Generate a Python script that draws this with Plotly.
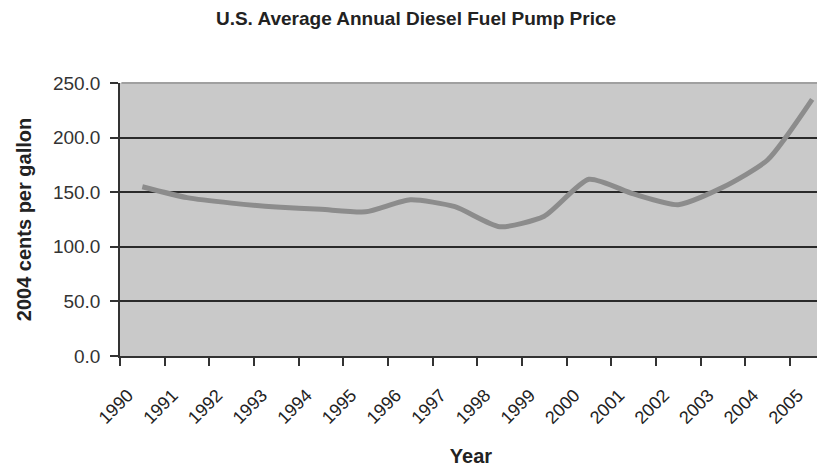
import plotly.graph_objects as go

years = list(range(1990, 2006))
year_labels = [str(y) for y in years]
prices = [155.0, 145.0, 140.0, 136.5, 134.3, 132.0, 143.0, 136.7, 118.4, 128.0,
          161.8, 148.4, 138.6, 154.5, 179.5, 235.0]
y_ticks = [0, 50, 100, 150, 200, 250]
y_tick_labels = ["0.0", "50.0", "100.0", "150.0", "200.0", "250.0"]

# points plotted mid-category (between tick marks), as in Excel
x_pos = [y + 0.5 for y in years]

fig = go.Figure()
fig.add_trace(go.Scatter(
    x=x_pos, y=prices, mode="lines",
    line=dict(color="#8c8c8c", width=5, shape="spline", smoothing=0.6),
    showlegend=False, hoverinfo="skip"))

# the page body adds an 8px margin, so the figure is sized 8px smaller
W, H = 817, 460
font_family = "Liberation Sans, Arial, sans-serif"
fig.update_layout(
    width=W, height=H,
    margin=dict(l=112, r=3, t=75, b=112),
    paper_bgcolor="white", plot_bgcolor="#c9c9c9",
    font=dict(family=font_family, color="#222222"),
    title=dict(text="<b>U.S. Average Annual Diesel Fuel Pump Price</b>",
               x=408 / W, xanchor="center", y=1 - 10 / H, yanchor="middle",
               font=dict(size=19, family=font_family, color="#222222")),
    xaxis=dict(
        range=[1990, 2005.72], tickmode="array", tickvals=years, ticktext=year_labels,
        tickangle=-45, ticks="outside", ticklen=8, tickwidth=1.5, tickcolor="#333333",
        ticklabelstandoff=12, ticklabelshift=8,
        showgrid=False, zeroline=False, showline=True, linecolor="#333333", linewidth=1.5,
        tickfont=dict(size=18, color="#222222"), automargin=False,
        title=dict(text="<b>Year</b>", font=dict(size=20), standoff=22)),
    yaxis=dict(
        range=[0, 250], tickmode="array", tickvals=y_ticks, ticktext=y_tick_labels,
        ticks="outside", ticklen=8, tickwidth=1.5, tickcolor="#333333",
        ticklabelstandoff=6,
        showgrid=True, gridcolor="#2a2a2a", gridwidth=1.8,
        zeroline=False, showline=True, linecolor="#333333", linewidth=1.5,
        tickfont=dict(size=19, color="#333333"), automargin=False,
        title=dict(text="<b>2004 cents per gallon</b>", font=dict(size=20), standoff=16)),
    # light plot-area border along the top (covers the 250 gridline)
    shapes=[dict(type="line", xref="paper", yref="paper", x0=0.002, x1=1, y0=1, y1=1,
                 line=dict(color="#a0a0a0", width=2), layer="above")],
)

fig.write_html("out.html")
